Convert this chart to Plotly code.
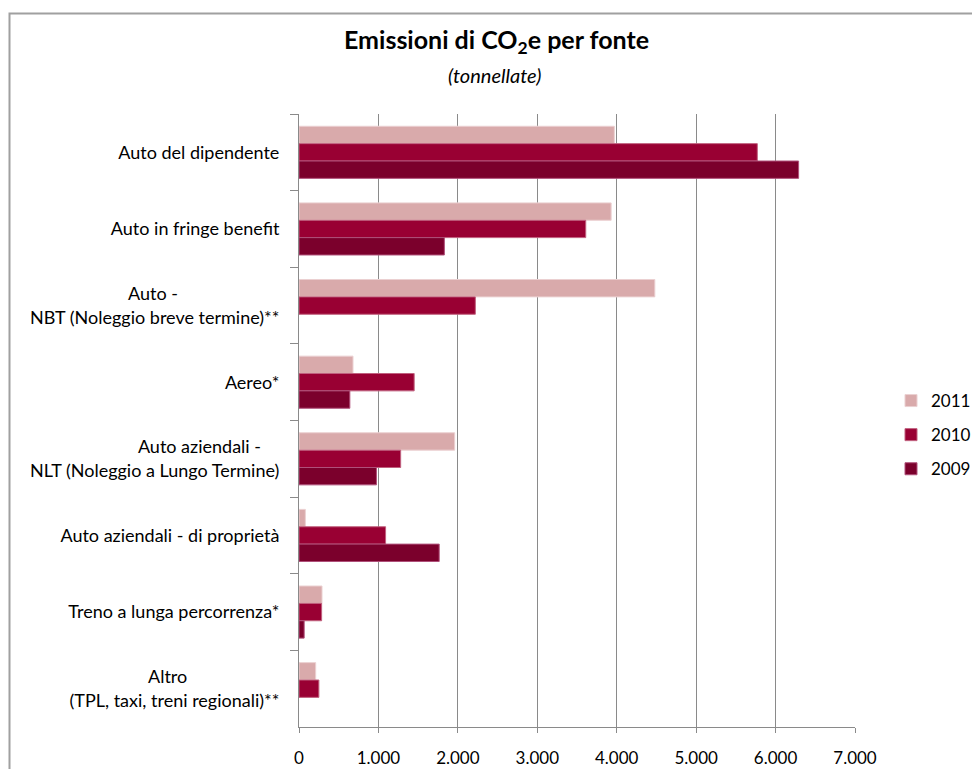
import plotly.graph_objects as go

NB = "\u00a0"

# Source categories (top to bottom)
categories = [
    "Auto del dipendente",
    "Auto in fringe benefit",
    "Auto -" + NB * 22 + "<br>NBT (Noleggio breve termine)**",
    "Aereo*",
    "Auto aziendali -" + NB * 4 + "<br>NLT (Noleggio a Lungo Termine)",
    "Auto aziendali - di proprietà",
    "Treno a lunga percorrenza*",
    "Altro" + NB * 20 + "<br>(TPL, taxi, treni regionali)**",
]

# Emissions in tonnes of CO2e
values_2011 = [3970, 3930, 4480, 680, 1960, 80, 290, 210]
values_2010 = [5770, 3610, 2220, 1450, 1280, 1090, 285, 250]
values_2009 = [6290, 1830, None, 640, 975, 1765, 65, None]

years = ["2011", "2010", "2009"]
series = [values_2011, values_2010, values_2009]
colors = ["#D9AAAB", "#990033", "#7B002C"]
outline = ["#EBD0D1", "#C0607E", "#B0507A"]

x_ticks = [0, 1000, 2000, 3000, 4000, 5000, 6000, 7000]

FONT = "Lato, 'Open Sans', sans-serif"

fig = go.Figure()
for i, (yr, vals) in enumerate(zip(years, series)):
    fig.add_trace(go.Bar(
        y=categories,
        x=vals,
        name=yr,
        orientation="h",
        legendgroup=yr,
        marker=dict(color=colors[i], line=dict(color=outline[i], width=1)),
    ))

fig.update_layout(
    width=972,
    height=769,
    margin=dict(l=299, r=117, t=114, b=42, autoexpand=False),
    paper_bgcolor="white",
    plot_bgcolor="white",
    barmode="group",
    bargap=0.32,
    bargroupgap=0,
    separators=",.",
    font=dict(family=FONT, size=18, color="#000000"),
    legend=dict(
        x=(891 - 299) / 556,
        xanchor="left",
        y=(727 - 435) / 613,
        yanchor="middle",
        font=dict(size=17),
        tracegroupgap=9,
        bgcolor="rgba(0,0,0,0)",
    ),
    showlegend=True,
)

fig.update_xaxes(
    range=[0, 7000],
    tickvals=x_ticks,
    tickformat=",d",
    showgrid=True,
    gridcolor="#8A8A8A",
    gridwidth=1,
    zeroline=False,
    showline=True,
    linecolor="#8A8A8A",
    linewidth=1,
    ticks="outside",
    ticklen=5,
    tickcolor="#8A8A8A",
    ticklabelstandoff=11,
    tickfont=dict(size=17),
)

fig.update_yaxes(
    type="category",
    autorange="reversed",
    showgrid=False,
    showline=True,
    linecolor="#8A8A8A",
    linewidth=1,
    ticks="outside",
    tickson="boundaries",
    ticklen=8,
    tickcolor="#8A8A8A",
    ticklabelstandoff=15,
    tickfont=dict(size=18),
)

# Title and subtitle
fig.add_annotation(
    text="<b>Emissioni di CO<sub>2</sub>e per fonte</b>",
    xref="paper", yref="paper",
    x=(496 - 299) / 556, y=(727 - 41) / 613,
    xanchor="center", yanchor="middle",
    showarrow=False,
    font=dict(family=FONT, size=25, color="#000000"),
)
fig.add_annotation(
    text="<i>(tonnellate)</i>",
    xref="paper", yref="paper",
    x=(494 - 299) / 556, y=(727 - 75) / 613,
    xanchor="center", yanchor="middle",
    showarrow=False,
    font=dict(family=FONT, size=20, color="#000000"),
)

# Chart frame
fig.add_shape(
    type="rect",
    xref="paper", yref="paper",
    x0=(9.5 - 299) / 556, x1=(1000 - 299) / 556,
    y0=(727 - 820) / 613, y1=(727 - 13.5) / 613,
    line=dict(color="#A0A0A0", width=2),
    fillcolor="rgba(0,0,0,0)",
    layer="below",
)

fig.write_html("out.html")
